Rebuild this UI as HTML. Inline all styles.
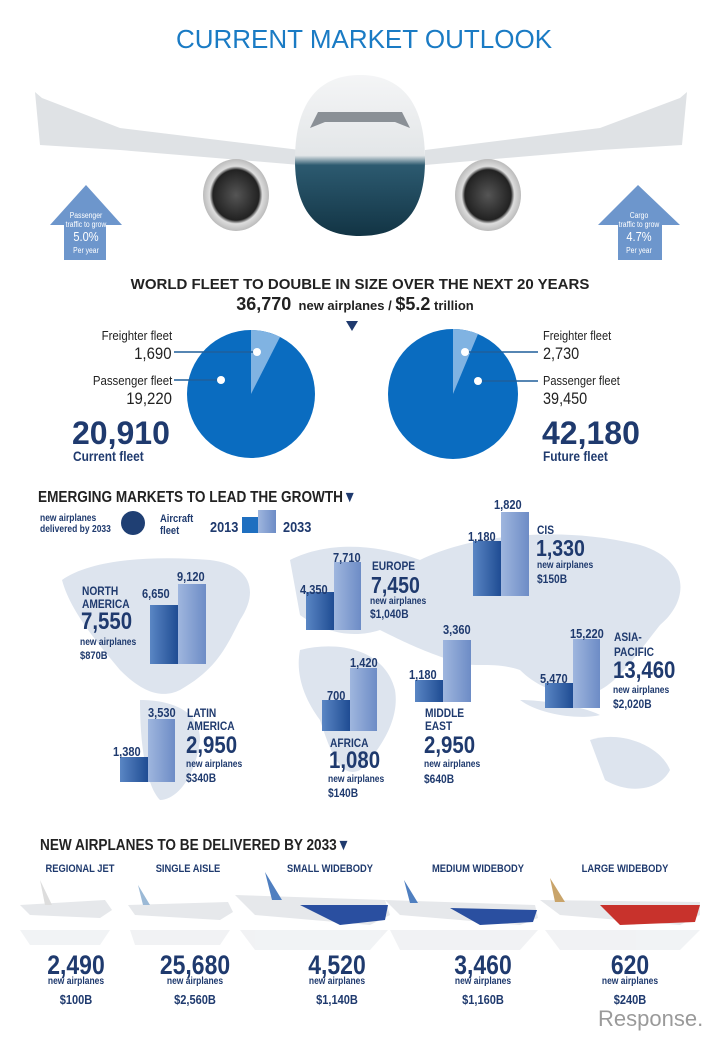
<!DOCTYPE html>
<html><head><meta charset="utf-8"><style>
body{margin:0;background:#fff}
#w{position:relative;width:720px;height:1040px;overflow:hidden;background:#fff;font-family:"Liberation Sans",sans-serif;color:#1f3a6e}
.t{position:absolute;white-space:nowrap;line-height:1}
.b{font-weight:bold}
.k{color:#222}
.n{color:#1f3a6e;font-weight:bold}
.c{transform:scaleX(.85);transform-origin:0 0}
.cr{transform:scaleX(.88);transform-origin:100% 0}
.cm{transform:scaleX(.85);transform-origin:50% 0}
</style></head><body><div id="w">
<svg width="720" height="1040" style="position:absolute;left:0;top:0">
<defs>
<linearGradient id="dk" x1="0" x2="1"><stop offset="0" stop-color="#5a86c4"/><stop offset="1" stop-color="#1f4c93"/></linearGradient>
<linearGradient id="lt" x1="0" x2="1"><stop offset="0" stop-color="#9fb6de"/><stop offset="1" stop-color="#6d8cc6"/></linearGradient>
<linearGradient id="fus" x1="0" y1="0" x2="0" y2="1"><stop offset="0" stop-color="#f4f5f6"/><stop offset="0.5" stop-color="#e3e6e8"/><stop offset="0.56" stop-color="#2c5a70"/><stop offset="1" stop-color="#123444"/></linearGradient>
<radialGradient id="eng"><stop offset="0" stop-color="#555"/><stop offset="0.7" stop-color="#222"/><stop offset="0.8" stop-color="#ddd"/><stop offset="1" stop-color="#bbb"/></radialGradient>
</defs>
<path d="M35,92 L40,145 L120,150 L300,165 L300,150 L120,128 L42,98 Z" fill="#dfe2e5"/>
<path d="M687,92 L682,145 L600,150 L425,165 L425,150 L600,128 L680,98 Z" fill="#dfe2e5"/>
<ellipse cx="236" cy="195" rx="33" ry="36" fill="url(#eng)"/>
<ellipse cx="488" cy="195" rx="33" ry="36" fill="url(#eng)"/>
<path d="M295,160 C295,95 325,75 360,75 C395,75 425,95 425,160 C425,215 400,236 360,236 C320,236 295,215 295,160 Z" fill="url(#fus)"/>
<path d="M310,128 L318,112 L402,112 L410,128 L395,122 L325,122 Z" fill="#8a9096"/>
<path d="M86,185 L122,225 L106,225 L106,260 L64,260 L64,225 L50,225 Z" fill="#6d96cc"/>
<path d="M638,185 L680,225 L662,225 L662,260 L618,260 L618,225 L598,225 Z" fill="#6d96cc"/>
<path d="M346,321 L358,321 L352,331 Z" fill="#1f3a6e"/>
<circle cx="251" cy="394" r="64" fill="#0a6cc0"/>
<path d="M251,394 L251,330 A64,64 0 0,1 280,337 Z" fill="#80b3e2"/>
<circle cx="453" cy="394" r="65" fill="#0a6cc0"/>
<path d="M453,394 L453,329 A65,65 0 0,1 478,334 Z" fill="#80b3e2"/>
<line x1="174" y1="352" x2="257" y2="352" stroke="#1f5f9a" stroke-width="1.5"/><circle cx="257" cy="352" r="4" fill="#fff"/>
<line x1="174" y1="380" x2="221" y2="380" stroke="#1f5f9a" stroke-width="1.5"/><circle cx="221" cy="380" r="4" fill="#fff"/>
<line x1="465" y1="352" x2="538" y2="352" stroke="#1f5f9a" stroke-width="1.5"/><circle cx="465" cy="352" r="4" fill="#fff"/>
<line x1="478" y1="381" x2="538" y2="381" stroke="#1f5f9a" stroke-width="1.5"/><circle cx="478" cy="381" r="4" fill="#fff"/>
<g fill="#dde4ee">
<path d="M62,580 C90,560 150,555 210,560 C250,565 260,590 240,620 C225,650 215,670 180,690 C160,700 140,690 120,670 C95,640 70,610 62,580 Z"/>
<path d="M140,700 C170,700 200,710 200,740 C195,780 175,800 160,800 C150,790 140,760 140,700 Z"/>
<path d="M290,560 C330,540 380,545 420,560 C470,535 560,525 640,545 C690,560 690,600 660,625 C640,650 620,680 600,690 C570,700 540,690 520,670 C490,660 470,670 450,660 C420,650 400,640 380,630 C350,640 320,630 300,615 Z"/>
<path d="M300,650 C340,640 385,650 395,690 C400,720 380,750 360,770 C340,780 330,750 320,720 C305,700 295,675 300,650 Z"/>
<path d="M590,740 C620,730 660,745 670,770 C660,790 630,795 605,780 Z"/>
<path d="M520,700 C540,700 580,705 600,715 C580,720 540,715 520,700 Z"/>
</g>
<circle cx="133" cy="523" r="12" fill="#1f3f73"/>
<rect x="242" y="517" width="16" height="16" fill="#1f6fc0"/><rect x="258" y="510" width="18" height="23" fill="url(#lt)"/>
<rect x="150" y="605" width="28" height="59" fill="url(#dk)"/><rect x="178" y="584" width="28" height="80" fill="url(#lt)"/>
<rect x="306" y="592" width="28" height="38" fill="url(#dk)"/><rect x="334" y="562" width="27" height="68" fill="url(#lt)"/>
<rect x="473" y="541" width="28" height="55" fill="url(#dk)"/><rect x="501" y="512" width="28" height="84" fill="url(#lt)"/>
<rect x="120" y="757" width="28" height="25" fill="url(#dk)"/><rect x="148" y="719" width="27" height="63" fill="url(#lt)"/>
<rect x="322" y="700" width="28" height="31" fill="url(#dk)"/><rect x="350" y="668" width="27" height="63" fill="url(#lt)"/>
<rect x="415" y="680" width="28" height="22" fill="url(#dk)"/><rect x="443" y="640" width="28" height="62" fill="url(#lt)"/>
<rect x="545" y="683" width="28" height="25" fill="url(#dk)"/><rect x="573" y="639" width="27" height="69" fill="url(#lt)"/>
<g fill="#e6e8eb">
<path d="M20,905 L105,900 L112,910 L100,918 L30,915 Z"/><path d="M40,880 L52,905 L45,905 Z" fill="#ddd"/>
<path d="M128,905 L228,902 L233,912 L220,920 L135,915 Z"/><path d="M138,885 L150,905 L143,905 Z" fill="#9bb9d6"/>
<path d="M235,895 L385,900 L390,915 L370,925 L255,915 Z"/><path d="M265,872 L282,900 L272,900 Z" fill="#4f7fc0"/>
<path d="M300,905 L388,905 L385,920 L340,925 Z" fill="#2a4fa0"/>
<path d="M385,900 L535,905 L538,918 L520,925 L400,915 Z"/><path d="M404,880 L418,903 L410,903 Z" fill="#4f7fc0"/>
<path d="M450,908 L537,910 L533,922 L480,925 Z" fill="#2a4fa0"/>
<path d="M540,900 L700,902 L700,915 L680,925 L560,915 Z"/><path d="M550,878 L565,902 L555,902 Z" fill="#c9a46a"/>
<path d="M600,905 L700,905 L695,922 L620,925 Z" fill="#c8322c"/>
</g>
<g fill="#eef0f2" opacity="0.8">
<path d="M20,930 L110,930 L100,945 L30,945 Z"/><path d="M130,930 L230,930 L220,945 L135,945 Z"/>
<path d="M240,930 L388,930 L370,950 L255,950 Z"/><path d="M390,930 L538,930 L520,950 L400,950 Z"/>
<path d="M545,930 L700,930 L680,950 L560,950 Z"/>
</g>
</svg>

<div class="t" style="left:0;width:728px;text-align:center;top:26px;font-size:26px;color:#1a7bc4">CURRENT MARKET OUTLOOK</div>
<div class="t cm" style="left:56px;width:60px;text-align:center;top:211px;color:#fff;font-size:8px;line-height:9px">Passenger<br>traffic to grow</div>
<div class="t cm" style="left:56px;width:60px;text-align:center;top:230px;color:#fff;font-size:13px">5.0%</div>
<div class="t cm" style="left:56px;width:60px;text-align:center;top:247px;color:#fff;font-size:8px">Per year</div>
<div class="t cm" style="left:609px;width:60px;text-align:center;top:211px;color:#fff;font-size:8px;line-height:9px">Cargo<br>traffic to grow</div>
<div class="t cm" style="left:609px;width:60px;text-align:center;top:230px;color:#fff;font-size:13px">4.7%</div>
<div class="t cm" style="left:609px;width:60px;text-align:center;top:247px;color:#fff;font-size:8px">Per year</div>

<div class="t b k" style="left:0;width:720px;text-align:center;top:277px;font-size:15px">WORLD FLEET TO DOUBLE IN SIZE OVER THE NEXT 20 YEARS</div>
<div class="t b k" style="left:0;width:710px;text-align:center;top:295px;font-size:13px"><span style="font-size:18px">36,770</span>&nbsp; new airplanes / <span style="font-size:18px">$5.2</span> trillion</div>

<div class="t k cr" style="right:548px;top:329px;font-size:13px">Freighter fleet</div>
<div class="t k cr" style="right:548px;top:345px;font-size:17px">1,690</div>
<div class="t k cr" style="right:548px;top:374px;font-size:13px">Passenger fleet</div>
<div class="t k cr" style="right:548px;top:390px;font-size:17px">19,220</div>
<div class="t n" style="left:72px;top:417px;font-size:32px">20,910</div>
<div class="t n c" style="left:73px;top:449px;font-size:14px">Current fleet</div>
<div class="t k c" style="left:543px;top:329px;font-size:13px">Freighter fleet</div>
<div class="t k c" style="left:543px;top:345px;font-size:17px">2,730</div>
<div class="t k c" style="left:543px;top:374px;font-size:13px">Passenger fleet</div>
<div class="t k c" style="left:543px;top:390px;font-size:17px">39,450</div>
<div class="t n" style="left:542px;top:417px;font-size:32px">42,180</div>
<div class="t n c" style="left:543px;top:449px;font-size:14px">Future fleet</div>

<div class="t b k c" style="left:38px;top:490px;font-size:16px">EMERGING MARKETS TO LEAD THE GROWTH<span style="color:#1f3a6e">▼</span></div>
<div class="t n c" style="left:40px;top:513px;font-size:10px;line-height:11px">new airplanes<br>delivered by 2033</div>
<div class="t n c" style="left:160px;top:513px;font-size:11px;line-height:12px">Aircraft<br>fleet</div>
<div class="t n c" style="left:210px;top:520px;font-size:15px">2013</div>
<div class="t n c" style="left:283px;top:520px;font-size:15px">2033</div>

<div class="t n c" style="left:142px;top:587px;font-size:13px">6,650</div>
<div class="t n c" style="left:177px;top:570px;font-size:13px">9,120</div>
<div class="t n c" style="left:82px;top:585px;font-size:12px;line-height:13px">NORTH<br>AMERICA</div>
<div class="t n c" style="left:81px;top:610px;font-size:24px">7,550</div>
<div class="t n c" style="left:80px;top:638px;font-size:10px">new airplanes</div>
<div class="t n c" style="left:80px;top:651px;font-size:11px">$870B</div>

<div class="t n c" style="left:300px;top:583px;font-size:13px">4,350</div>
<div class="t n c" style="left:333px;top:551px;font-size:13px">7,710</div>
<div class="t n c" style="left:372px;top:560px;font-size:12px">EUROPE</div>
<div class="t n c" style="left:371px;top:574px;font-size:23px">7,450</div>
<div class="t n c" style="left:370px;top:597px;font-size:10px">new airplanes</div>
<div class="t n c" style="left:370px;top:608px;font-size:12px">$1,040B</div>

<div class="t n c" style="left:468px;top:530px;font-size:13px">1,180</div>
<div class="t n c" style="left:494px;top:498px;font-size:13px">1,820</div>
<div class="t n c" style="left:537px;top:524px;font-size:12px">CIS</div>
<div class="t n c" style="left:536px;top:537px;font-size:23px">1,330</div>
<div class="t n c" style="left:537px;top:561px;font-size:10px">new airplanes</div>
<div class="t n c" style="left:537px;top:573px;font-size:12px">$150B</div>

<div class="t n c" style="left:113px;top:745px;font-size:13px">1,380</div>
<div class="t n c" style="left:148px;top:706px;font-size:13px">3,530</div>
<div class="t n c" style="left:187px;top:707px;font-size:12px;line-height:13px">LATIN<br>AMERICA</div>
<div class="t n c" style="left:186px;top:734px;font-size:24px">2,950</div>
<div class="t n c" style="left:186px;top:760px;font-size:10px">new airplanes</div>
<div class="t n c" style="left:186px;top:772px;font-size:12px">$340B</div>

<div class="t n c" style="left:327px;top:689px;font-size:13px">700</div>
<div class="t n c" style="left:350px;top:656px;font-size:13px">1,420</div>
<div class="t n c" style="left:330px;top:737px;font-size:12px">AFRICA</div>
<div class="t n c" style="left:329px;top:749px;font-size:24px">1,080</div>
<div class="t n c" style="left:328px;top:775px;font-size:10px">new airplanes</div>
<div class="t n c" style="left:328px;top:787px;font-size:12px">$140B</div>

<div class="t n c" style="left:409px;top:668px;font-size:13px">1,180</div>
<div class="t n c" style="left:443px;top:623px;font-size:13px">3,360</div>
<div class="t n c" style="left:425px;top:707px;font-size:12px;line-height:13px">MIDDLE<br>EAST</div>
<div class="t n c" style="left:424px;top:734px;font-size:24px">2,950</div>
<div class="t n c" style="left:424px;top:760px;font-size:10px">new airplanes</div>
<div class="t n c" style="left:424px;top:773px;font-size:12px">$640B</div>

<div class="t n c" style="left:540px;top:672px;font-size:13px">5,470</div>
<div class="t n c" style="left:570px;top:627px;font-size:13px">15,220</div>
<div class="t n c" style="left:614px;top:630px;font-size:12px;line-height:15px">ASIA-<br>PACIFIC</div>
<div class="t n c" style="left:613px;top:659px;font-size:24px">13,460</div>
<div class="t n c" style="left:613px;top:686px;font-size:10px">new airplanes</div>
<div class="t n c" style="left:613px;top:698px;font-size:12px">$2,020B</div>

<div class="t b k c" style="left:40px;top:838px;font-size:16px">NEW AIRPLANES TO BE DELIVERED BY 2033<span style="color:#1f3a6e">▼</span></div>
<div class="t n cm" style="left:20px;width:120px;text-align:center;top:864px;font-size:11px">REGIONAL JET</div>
<div class="t n cm" style="left:128px;width:120px;text-align:center;top:864px;font-size:11px">SINGLE AISLE</div>
<div class="t n cm" style="left:270px;width:120px;text-align:center;top:864px;font-size:11px">SMALL WIDEBODY</div>
<div class="t n cm" style="left:418px;width:120px;text-align:center;top:864px;font-size:11px">MEDIUM WIDEBODY</div>
<div class="t n cm" style="left:565px;width:120px;text-align:center;top:864px;font-size:11px">LARGE WIDEBODY</div>

<div class="t n cm" style="left:16px;width:120px;text-align:center;top:952px;font-size:27px">2,490</div>
<div class="t n cm" style="left:135px;width:120px;text-align:center;top:952px;font-size:27px">25,680</div>
<div class="t n cm" style="left:277px;width:120px;text-align:center;top:952px;font-size:27px">4,520</div>
<div class="t n cm" style="left:423px;width:120px;text-align:center;top:952px;font-size:27px">3,460</div>
<div class="t n cm" style="left:570px;width:120px;text-align:center;top:952px;font-size:27px">620</div>
<div class="t n cm" style="left:16px;width:120px;text-align:center;top:977px;font-size:10px">new airplanes</div>
<div class="t n cm" style="left:135px;width:120px;text-align:center;top:977px;font-size:10px">new airplanes</div>
<div class="t n cm" style="left:277px;width:120px;text-align:center;top:977px;font-size:10px">new airplanes</div>
<div class="t n cm" style="left:423px;width:120px;text-align:center;top:977px;font-size:10px">new airplanes</div>
<div class="t n cm" style="left:570px;width:120px;text-align:center;top:977px;font-size:10px">new airplanes</div>
<div class="t n cm" style="left:16px;width:120px;text-align:center;top:993px;font-size:13px">$100B</div>
<div class="t n cm" style="left:135px;width:120px;text-align:center;top:993px;font-size:13px">$2,560B</div>
<div class="t n cm" style="left:277px;width:120px;text-align:center;top:993px;font-size:13px">$1,140B</div>
<div class="t n cm" style="left:423px;width:120px;text-align:center;top:993px;font-size:13px">$1,160B</div>
<div class="t n cm" style="left:570px;width:120px;text-align:center;top:993px;font-size:13px">$240B</div>
<div class="t" style="left:598px;top:1008px;font-size:22px;color:#9a9a9a">Response.</div>
</div></body></html>
